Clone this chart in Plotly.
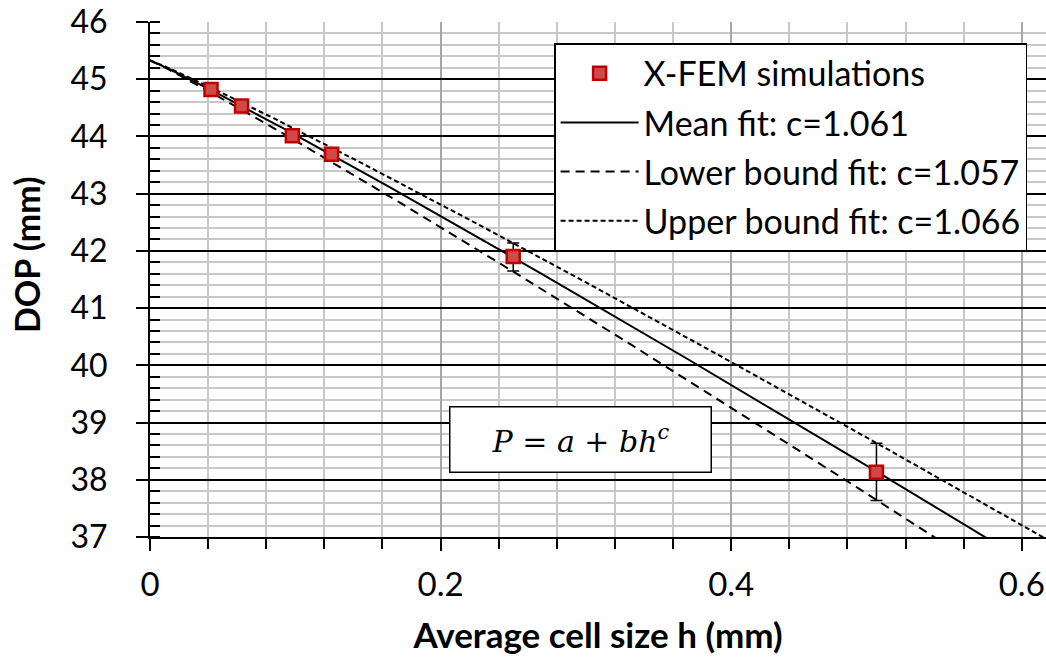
import numpy as np
import plotly.graph_objects as go

# X-FEM simulation results: average cell size h (mm) vs depth of penetration (mm)
cell_size = [0.042, 0.063, 0.098, 0.125, 0.25, 0.5]
dop = [44.82, 44.53, 44.01, 43.69, 41.90, 38.13]
err_plus = [0.0, 0.0, 0.0, 0.0, 0.24, 0.51]
err_minus = [0.0, 0.0, 0.0, 0.0, 0.25, 0.49]

# Fits of the form P = a + b*h^c
fit_names = ["Mean fit: c=1.061", "Lower bound fit: c=1.057", "Upper bound fit: c=1.066"]
fit_a = [45.33, 45.33, 45.33]
fit_b = [-14.99, -15.98, -14.00]
fit_c = [1.061, 1.057, 1.066]
fit_dash = ["solid", "9px,6px", "5px,3px"]

FONT = "Lato"
h = np.linspace(0, 0.62, 300)

fig = go.Figure()

for i, (name, a, b, c, dash) in enumerate(zip(fit_names, fit_a, fit_b, fit_c, fit_dash)):
    fig.add_trace(go.Scatter(
        x=h, y=a + b * h ** c, mode="lines", name=name,
        line=dict(color="black", width=2, dash=dash),
        legendgroup=f"g{i + 1}", legendrank=i + 2,
    ))

fig.add_trace(go.Scatter(
    x=cell_size, y=dop, mode="markers", name="X-FEM simulations",
    marker=dict(symbol="square", size=13, color="#D04848",
                line=dict(color="#C00000", width=2.5)),
    error_y=dict(type="data", array=err_plus, arrayminus=err_minus,
                 color="black", thickness=1.5, width=6),
    legendgroup="g0", legendrank=1,
))

# Model equation box
fig.add_annotation(
    x=0.481, y=0.189, xref="paper", yref="paper",
    xanchor="center", yanchor="middle",
    text="<i>P</i> = <i>a</i> + <i>bh</i><sup><i>c</i></sup>",
    showarrow=False, font=dict(family="DejaVu Serif", size=30, color="black"),
    bgcolor="white", bordercolor="black", borderwidth=1.5,
    borderpad=10, width=240, height=44,
)

# Vertical axis title
fig.add_annotation(
    x=-0.137, y=0.548, xref="paper", yref="paper",
    xanchor="center", yanchor="middle", textangle=-90,
    text="<b>DOP (mm)</b>", showarrow=False,
    font=dict(family=FONT, size=34, color="black"),
)

fig.update_layout(
    width=1046, height=660,
    margin=dict(l=150, r=0, t=22, b=123),
    paper_bgcolor="white", plot_bgcolor="white",
    font=dict(family=FONT, size=32, color="black"),
    showlegend=True,
    legend=dict(
        x=0.451, y=0.959, xanchor="left", yanchor="top",
        bgcolor="white", bordercolor="black", borderwidth=1.5,
        font=dict(family=FONT, size=34), itemwidth=78,
        tracegroupgap=2, traceorder="grouped",
    ),
    xaxis=dict(
        range=[0, 0.6167], dtick=0.2, tick0=0,
        showgrid=True, gridcolor="#A6A6A6", gridwidth=2,
        ticks="outside", ticklen=12, tickwidth=2, tickcolor="black",
        showline=True, linecolor="black", linewidth=2,
        zeroline=False, ticklabelstandoff=5, ticklabeloverflow="allow",
        tickfont=dict(size=33),
        minor=dict(dtick=0.04, showgrid=True, gridcolor="#C8C8C8", gridwidth=2,
                   ticks="outside", ticklen=10, tickwidth=2, tickcolor="black"),
        title=dict(text="<b>Average cell size h (mm)</b>", font=dict(size=35), standoff=22),
    ),
    yaxis=dict(
        range=[37, 46], dtick=1,
        showgrid=True, gridcolor="black", gridwidth=1.5,
        ticks="outside", ticklen=12, tickwidth=2, tickcolor="black",
        showline=True, linecolor="black", linewidth=2,
        zeroline=False, ticklabelstandoff=22, ticklabeloverflow="allow",
        minor=dict(dtick=0.2, showgrid=True, gridcolor="#C8C8C8", gridwidth=2,
                   ticks="inside", ticklen=10, tickwidth=2, tickcolor="black"),
    ),
)

fig.write_html("out.html")
